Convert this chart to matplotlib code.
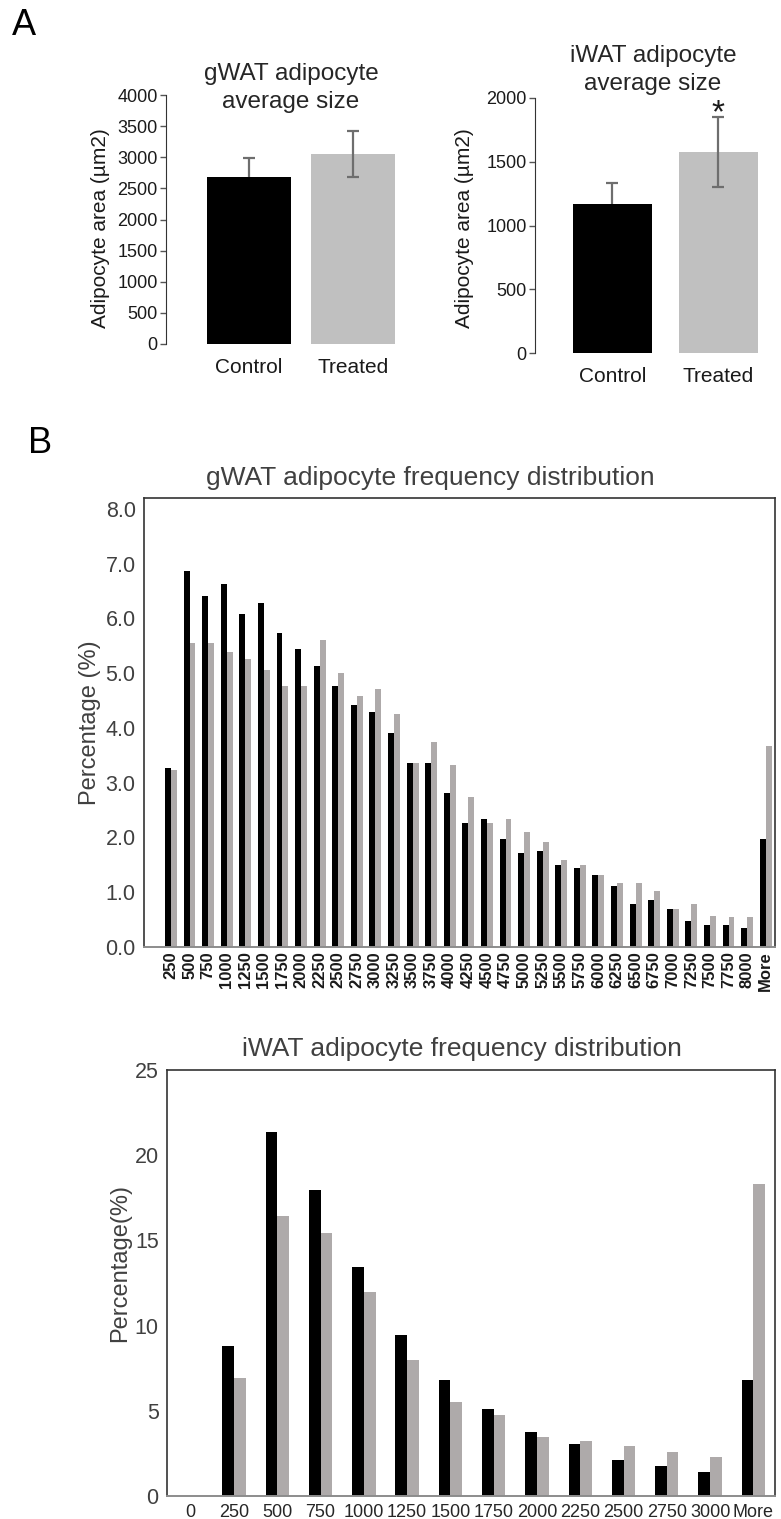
import numpy as np
import matplotlib
matplotlib.use("Agg")
import matplotlib.pyplot as plt

plt.rcParams['font.family'] = ['Liberation Sans', 'DejaVu Sans']

W, H = 781, 1519

# panel A: average size
groups = ['Control', 'Treated']
gwat_mean = [2690, 3050]
gwat_err = [290, 375]
iwat_mean = [1165, 1578]
iwat_err = [170, 275]

# panel B: frequency distributions
gwat_bins = ['250', '500', '750', '1000', '1250', '1500', '1750', '2000', '2250',
             '2500', '2750', '3000', '3250', '3500', '3750', '4000', '4250', '4500',
             '4750', '5000', '5250', '5500', '5750', '6000', '6250', '6500', '6750',
             '7000', '7250', '7500', '7750', '8000', 'More']
gwat_control = [3.27, 6.86, 6.41, 6.63, 6.09, 6.28, 5.74, 5.44, 5.13, 4.77, 4.42,
                4.29, 3.91, 3.36, 3.36, 2.81, 2.27, 2.33, 1.98, 1.72, 1.75, 1.50,
                1.44, 1.31, 1.11, 0.79, 0.86, 0.70, 0.47, 0.41, 0.41, 0.35, 1.98]
gwat_treated = [3.24, 5.55, 5.55, 5.38, 5.26, 5.06, 4.77, 4.77, 5.60, 5.00, 4.58,
                4.71, 4.26, 3.36, 3.74, 3.32, 2.74, 2.27, 2.33, 2.10, 1.92, 1.59,
                1.50, 1.31, 1.17, 1.17, 1.02, 0.70, 0.79, 0.57, 0.54, 0.54, 3.67]

iwat_bins = ['0', '250', '500', '750', '1000', '1250', '1500', '1750', '2000',
             '2250', '2500', '2750', '3000', 'More']
iwat_control = [0, 8.79, 21.36, 17.95, 13.41, 9.42, 6.83, 5.09, 3.76, 3.03, 2.09,
                1.78, 1.39, 6.83]
iwat_treated = [0, 6.95, 16.43, 15.41, 12.0, 7.97, 5.50, 4.78, 3.45, 3.23, 2.92,
                2.60, 2.29, 18.29]

fig = plt.figure(figsize=(W / 100, H / 100), dpi=100)


def px_axes(left, top, right, bottom):
    return fig.add_axes([left / W, 1 - bottom / H, (right - left) / W, (bottom - top) / H])


def px_text(x, y, s, **kw):
    return fig.text(x / W, 1 - y / H, s, **kw)


def avg_panel(ax, means, err, ymax, step, xlim, width):
    x = np.arange(len(groups))
    ax.bar(x, means, width=width, color=['black', '#c0c0c0'], zorder=2)
    # control error bar sits behind the black bar, so only the upper half shows
    for i, z in zip(x, [1, 3]):
        ax.errorbar(x[i], means[i], yerr=err[i], fmt='none', ecolor='#6e6e6e',
                    elinewidth=1.6, capsize=4, capthick=1.6, zorder=z)
    ax.set_xlim(*xlim)
    ax.set_ylim(0, ymax)
    ax.set_yticks(np.arange(0, ymax + 1, step))
    ax.set_xticks(x)
    ax.set_xticklabels(groups, fontsize=15, color='#1a1a1a')
    for s in ['top', 'right', 'bottom']:
        ax.spines[s].set_visible(False)
    ax.spines['left'].set_color('#333333')
    ax.tick_params(axis='x', length=0, pad=10)
    ax.tick_params(axis='y', length=4, width=1, color='#555555', labelsize=13,
                   labelcolor='#1a1a1a', pad=2)


ax1 = px_axes(166, 95, 400, 344)
avg_panel(ax1, gwat_mean, gwat_err, 4000, 500, (-0.794, 1.45), 0.8)
ax2 = px_axes(535, 98, 766, 353)
avg_panel(ax2, iwat_mean, iwat_err, 2000, 500, (-0.731, 1.45), 0.745)

px_text(291, 88, 'gWAT adipocyte\naverage size', ha='center', va='center',
        fontsize=17.5, color='#262626', linespacing=1.3)
px_text(653, 70, 'iWAT adipocyte\naverage size', ha='center', va='center',
        fontsize=17.5, color='#262626', linespacing=1.3)
px_text(100, 228, 'Adipocyte area (µm2)', rotation=90, ha='center', va='center',
        fontsize=15, color='#1a1a1a')
px_text(465, 228, 'Adipocyte area (µm2)', rotation=90, ha='center', va='center',
        fontsize=15, color='#1a1a1a')
px_text(718, 114, '*', ha='center', va='center', fontsize=24, color='#1a1a1a')

px_text(12, 8, 'A', ha='left', va='top', fontsize=26, color='black')
px_text(28, 426, 'B', ha='left', va='top', fontsize=26, color='black')


def freq_panel(ax, bins, ctrl, trt, width, ylim, yticks, fmt, xlim):
    x = np.arange(len(bins))
    ax.bar(x, ctrl, width=width, align='edge', color='black')
    ax.bar(x, trt, width=width, align='edge', color='#aeaaaa')
    for b in ax.patches[:len(bins)]:
        b.set_x(b.get_x() - width)
    ax.set_xlim(*xlim)
    ax.set_ylim(*ylim)
    ax.set_yticks(yticks)
    ax.set_yticklabels([fmt % v for v in yticks])
    ax.set_xticks(x)
    for s in ['top', 'right', 'left']:
        ax.spines[s].set_color('#333333')
        ax.spines[s].set_linewidth(1.2)
    ax.spines['bottom'].set_color('#8c8c8c')
    ax.spines['bottom'].set_linewidth(1.4)
    ax.tick_params(axis='both', length=0)
    ax.tick_params(axis='y', labelsize=15.5, labelcolor='#404040', pad=6)
    return x


ax3 = px_axes(144, 498, 775, 947)
x3 = freq_panel(ax3, gwat_bins, gwat_control, gwat_treated, 0.32, (0, 8.2),
                np.arange(0, 9, 1.0), '%.1f', (-1.45, 32.5))
ax3.set_xticklabels(gwat_bins, rotation=90, fontsize=12, fontweight='bold',
                    color='#1a1a1a')
ax3.tick_params(axis='x', pad=3)
px_text(430, 478, 'gWAT adipocyte frequency distribution', ha='center', va='center',
        fontsize=19, color='#404040')
px_text(90, 723, 'Percentage (%)', rotation=90, ha='center', va='center',
        fontsize=17, color='#404040')

ax4 = px_axes(167, 1070, 775, 1496)
x4 = freq_panel(ax4, iwat_bins, iwat_control, iwat_treated, 0.27, (0, 25),
                np.arange(0, 26, 5), '%d', (-0.55, 13.5))
ax4.set_xticklabels(iwat_bins, fontsize=13, color='#262626')
ax4.tick_params(axis='x', pad=6)
px_text(462, 1049, 'iWAT adipocyte frequency distribution', ha='center', va='center',
        fontsize=19, color='#404040')
px_text(120, 1263, 'Percentage(%)', rotation=90, ha='center', va='center',
        fontsize=17, color='#404040')

fig.savefig('out.png', dpi=100)
